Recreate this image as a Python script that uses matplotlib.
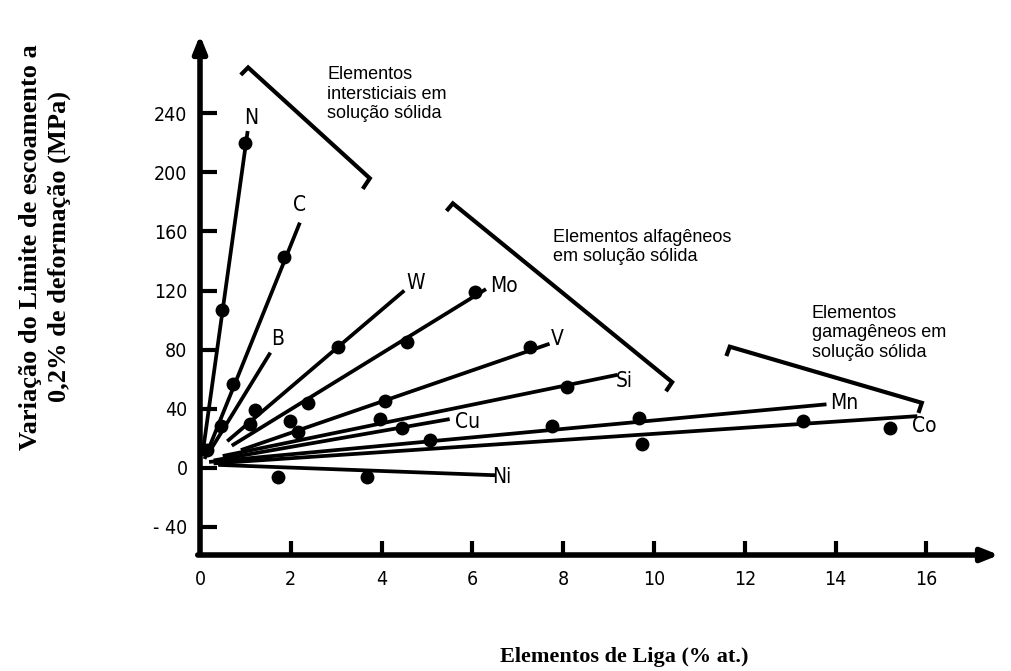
import matplotlib
matplotlib.use("Agg")
import matplotlib.pyplot as plt
from matplotlib import font_manager as fm

# ---- data ----
elements = ["N", "C", "B", "W", "Mo", "V", "Si", "Cu", "Mn", "Co", "Ni"]

# trend line start / end (x in % at., y in MPa)
line_x0 = [0.05, 0.10, 0.15, 0.60, 0.70, 0.90, 0.50, 0.30, 0.20, 0.30, 0.40]
line_y0 = [8.0, 6.0, 8.0, 18.0, 15.0, 12.0, 8.0, 5.0, 4.0, 3.0, 2.0]
line_x1 = [1.05, 2.20, 1.55, 4.50, 6.30, 7.70, 9.20, 5.50, 13.80, 15.80, 6.50]
line_y1 = [228.0, 166.0, 78.0, 120.0, 121.0, 84.0, 63.0, 33.0, 43.0, 35.0, -5.0]

# measured points
pts_N_x = [0.15, 0.48, 0.99]
pts_N_y = [12.0, 107.0, 220.0]
pts_C_x = [0.73, 1.85]
pts_C_y = [57.0, 143.0]
pts_B_x = [0.46]
pts_B_y = [28.0]
pts_W_x = [1.21, 3.04]
pts_W_y = [39.0, 82.0]
pts_Mo_x = [2.38, 4.56, 6.06]
pts_Mo_y = [44.0, 85.0, 119.0]
pts_V_x = [1.10, 4.07, 7.27]
pts_V_y = [30.0, 45.0, 82.0]
pts_Si_x = [1.98, 3.96, 8.08]
pts_Si_y = [32.0, 33.0, 55.0]
pts_Cu_x = [2.16, 4.45]
pts_Cu_y = [24.0, 27.0]
pts_Mn_x = [7.75, 9.67, 13.28]
pts_Mn_y = [28.0, 34.0, 32.0]
pts_Co_x = [5.07, 9.73, 15.20]
pts_Co_y = [19.0, 16.0, 27.0]
pts_Ni_x = [1.72, 3.68]
pts_Ni_y = [-6.0, -6.0]

points_x = [pts_N_x, pts_C_x, pts_B_x, pts_W_x, pts_Mo_x, pts_V_x, pts_Si_x,
            pts_Cu_x, pts_Mn_x, pts_Co_x, pts_Ni_x]
points_y = [pts_N_y, pts_C_y, pts_B_y, pts_W_y, pts_Mo_y, pts_V_y, pts_Si_y,
            pts_Cu_y, pts_Mn_y, pts_Co_y, pts_Ni_y]

yticks = [-40, 0, 40, 80, 120, 160, 200, 240]
ytick_labels = ["- 40", "0", "40", "80", "120", "160", "200", "240"]
xticks = [0, 2, 4, 6, 8, 10, 12, 14, 16]
xtick_labels = ["0", "2", "4", "6", "8", "10", "12", "14", "16"]

group_texts = ["Elementos\nintersticiais em\nsolução sólida",
               "Elementos alfagêneos\nem solução sólida",
               "Elementos\ngamagêneos em\nsolução sólida"]

xlabel = "Elementos de Liga (% at.)"
ylabel = "Variação do Limite de escoamento a\n0,2% de deformação (MPa)"

# ---- fonts ----
names = {f.name for f in fm.fontManager.ttflist}
has_cond = any(f.name == "DejaVu Sans" and str(f.stretch) in ("condensed", "semi-condensed")
               for f in fm.fontManager.ttflist)
if "Liberation Sans Narrow" in names:
    cond_kw = dict(family=["Liberation Sans Narrow", "DejaVu Sans"])
elif has_cond:
    cond_kw = dict(family=["DejaVu Sans"], fontstretch="condensed")
else:
    cond_kw = dict(family=["Liberation Sans", "DejaVu Sans"])

# ---- figure ----
W, H = 1011, 671
fig = plt.figure(figsize=(W / 100, H / 100), dpi=100)
XMIN, XMAX = 0.0, 17.6
YMIN, YMAX = -59.0, 293.0
ax = fig.add_axes([200 / W, (H - 555) / H, 799 / W, 520 / H])
ax.set_xlim(XMIN, XMAX)
ax.set_ylim(YMIN, YMAX)
for s in ax.spines.values():
    s.set_visible(False)

# axes with arrows
ax.annotate("", xy=(0, YMAX), xytext=(0, YMIN + 0.5),
            arrowprops=dict(arrowstyle="-|>,head_length=1.0,head_width=0.4",
                            lw=4, color="black", shrinkA=0, shrinkB=0),
            annotation_clip=False)
ax.annotate("", xy=(XMAX, YMIN), xytext=(-0.05, YMIN),
            arrowprops=dict(arrowstyle="-|>,head_length=1.0,head_width=0.4",
                            lw=4, color="black", shrinkA=0, shrinkB=0),
            annotation_clip=False)

ax.set_yticks(yticks)
ax.set_yticklabels(ytick_labels, fontsize=14, **cond_kw)
ax.set_xticks(xticks)
ax.set_xticklabels(xtick_labels, fontsize=14, **cond_kw)
ax.tick_params(axis="y", direction="in", length=12, width=3, pad=9)
ax.tick_params(axis="x", direction="in", length=10, width=3, pad=11)
ax.xaxis.get_major_ticks()[0].tick1line.set_visible(False)

# trend lines and points
for i, el in enumerate(elements):
    ax.plot([line_x0[i], line_x1[i]], [line_y0[i], line_y1[i]],
            color="black", lw=2.7, solid_capstyle="butt")
    ax.plot(points_x[i], points_y[i], "o", color="black", ms=10,
            markeredgewidth=0)

# element labels
label_pos = {"N": (1.13, 237), "C": (2.2, 178), "B": (1.7, 87), "W": (4.75, 125),
             "Mo": (6.7, 123), "V": (7.88, 87), "Si": (9.35, 59), "Cu": (5.9, 31),
             "Mn": (14.2, 44), "Co": (15.95, 28), "Ni": (6.65, -6)}
for el in elements:
    x, y = label_pos[el]
    ax.text(x, y, el, fontsize=15, ha="center", va="center", **cond_kw)

# group brackets
brackets = [
    ([0.93, 1.06, 3.74, 3.61], [267, 271, 196, 190]),
    ([5.46, 5.57, 10.40, 10.29], [175, 179, 58, 53]),
    ([11.61, 11.67, 15.90, 15.84], [77, 82, 44, 38.5]),
]
for bx, by in brackets:
    ax.plot(bx, by, color="black", lw=3.0, solid_joinstyle="miter",
            clip_on=False)

sans = ["Liberation Sans", "DejaVu Sans"]
ax.text(2.80, 272, group_texts[0], family=sans, fontsize=13,
        ha="left", va="top", linespacing=1.2)
ax.text(7.78, 162, group_texts[1], family=sans, fontsize=13,
        ha="left", va="top", linespacing=1.2)
ax.text(13.48, 110.5, group_texts[2], family=sans, fontsize=13,
        ha="left", va="top", linespacing=1.2)

serif = ["Liberation Serif", "DejaVu Serif"]
fig.text(624 / W, 1 - 657 / H, xlabel, family=serif, fontweight="bold",
         fontsize=16, ha="center", va="center")
fig.text(45 / W, 1 - 247 / H, ylabel, family=serif, fontweight="bold",
         fontsize=19, ha="center", va="center", rotation=90, linespacing=1.3)

fig.savefig("out.png", dpi=100)
